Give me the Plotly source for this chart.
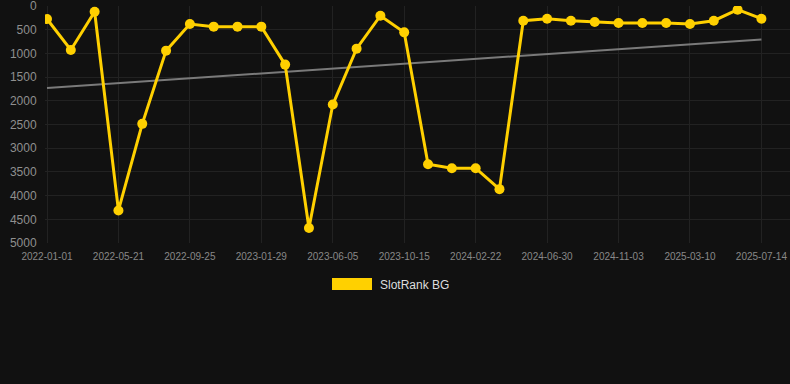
import numpy as np
import plotly.graph_objects as go

dates = ["2022-01-01", "2022-02-16", "2022-04-03", "2022-05-21", "2022-07-02", "2022-08-13",
         "2022-09-25", "2022-11-05", "2022-12-17", "2023-01-29", "2023-03-12", "2023-04-23",
         "2023-06-05", "2023-07-16", "2023-08-27", "2023-10-15", "2023-11-25", "2024-01-05",
         "2024-02-22", "2024-04-04", "2024-05-16", "2024-06-30", "2024-08-10", "2024-09-21",
         "2024-11-03", "2024-12-14", "2025-01-25", "2025-03-10", "2025-04-21", "2025-06-02",
         "2025-07-14"]
rank = [274, 927, 120, 4313, 2486, 941, 379, 435, 435, 435, 1236, 4685, 2079, 899, 204, 555,
        3337, 3421, 3421, 3864, 309, 267, 309, 337, 358, 358, 358, 379, 309, 77, 267]
tick_labels = dates[::3]
y_ticks = [0, 500, 1000, 1500, 2000, 2500, 3000, 3500, 4000, 4500, 5000]
series_name = "SlotRank BG"

idx = np.arange(len(rank))
slope, intercept = np.polyfit(idx, rank, 1)
trend = [intercept, intercept + slope * idx[-1]]

gold = "#FFD000"
fig = go.Figure()
fig.add_trace(go.Scatter(x=[dates[0], dates[-1]], y=trend, mode="lines",
                         line=dict(color="#7a7a7a", width=2), showlegend=False, hoverinfo="skip"))
fig.add_trace(go.Scatter(x=dates, y=rank, mode="lines+markers", name=series_name,
                         line=dict(color=gold, width=3),
                         marker=dict(color=gold, size=10), showlegend=False))

fig.update_layout(
    width=790, height=384,
    margin=dict(l=45, r=0, t=6, b=141),
    paper_bgcolor="#111111", plot_bgcolor="#111111",
    font=dict(family="Liberation Sans, Arial, sans-serif", color="#8a8a8a"),
    showlegend=False,
    xaxis=dict(type="category", categoryorder="array", categoryarray=dates,
               range=[-0.084, 31.2], tickmode="array", tickvals=tick_labels, ticktext=tick_labels,
               showgrid=True, gridcolor="#222222", gridwidth=1, zeroline=False, showline=False,
               tickfont=dict(size=10, color="#888888"), ticks="outside", ticklen=4,
               tickcolor="rgba(0,0,0,0)"),
    yaxis=dict(range=[5000, -1], tickmode="array", tickvals=y_ticks,
               showgrid=True, gridcolor="#222222", gridwidth=1, zeroline=False, showline=False,
               tickfont=dict(size=12, color="#8f8f8f"), ticks="outside", ticklen=5,
               tickcolor="rgba(0,0,0,0)", ticklabeloverflow="allow"),
    shapes=[dict(type="rect", xref="paper", yref="paper",
                 x0=(332 - 45) / 745, x1=(372 - 45) / 745,
                 y0=(384 - 141 - 290) / 237, y1=(384 - 141 - 278) / 237,
                 fillcolor=gold, line=dict(width=0))],
    annotations=[dict(text=series_name, xref="paper", yref="paper",
                      x=(378 - 45) / 745, y=(384 - 141 - 285) / 237,
                      xanchor="left", yanchor="middle", showarrow=False,
                      font=dict(size=12, color="#dddddd"))],
)

fig.write_html("out.html", config={"displayModeBar": False},
               post_script="document.body.style.margin='0';document.body.style.background='#111111';")
